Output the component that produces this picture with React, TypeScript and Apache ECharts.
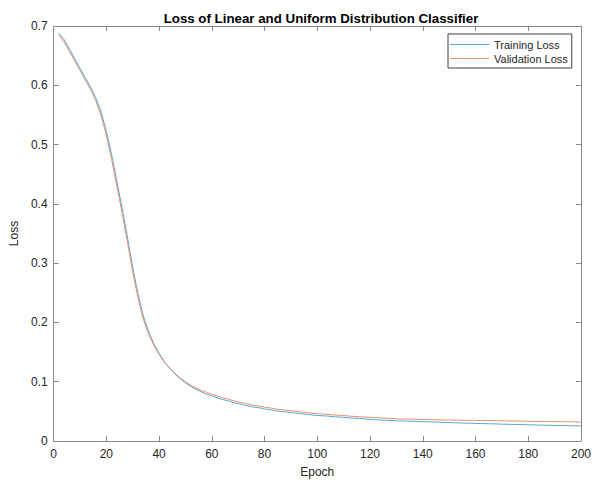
import React, { useEffect, useRef } from "react";
import * as echarts from "echarts";

const epochs = [
  2, 4, 6, 8, 10, 12, 14, 16, 18, 20, 22, 24, 26, 28, 30, 32, 34, 36, 38, 40,
  42, 44, 46, 48, 50, 52, 54, 56, 58, 60, 62, 64, 66, 68, 70, 72, 74, 76, 78, 80,
  82, 84, 86, 88, 90, 92, 94, 96, 98, 100, 102, 104, 106, 108, 110, 112, 114, 116, 118, 120,
  122, 124, 126, 128, 130, 132, 134, 136, 138, 140, 142, 144, 146, 148, 150, 152, 154, 156, 158, 160,
  162, 164, 166, 168, 170, 172, 174, 176, 178, 180, 182, 184, 186, 188, 190, 192, 194, 196, 198, 200,
];

const trainingLoss = [
  0.688, 0.677, 0.661, 0.645, 0.629, 0.613, 0.597, 0.579, 0.555, 0.523,
  0.483, 0.438, 0.392, 0.344, 0.293, 0.248, 0.211, 0.185, 0.164, 0.148,
  0.134, 0.123, 0.113, 0.105, 0.098, 0.092, 0.087, 0.083, 0.079, 0.076,
  0.073, 0.070, 0.068, 0.065, 0.063, 0.061, 0.059, 0.057, 0.056, 0.054,
  0.053, 0.051, 0.050, 0.049, 0.048, 0.047, 0.046, 0.045, 0.044, 0.043,
  0.0425, 0.042, 0.041, 0.0405, 0.040, 0.039, 0.0385, 0.038, 0.0375, 0.0365,
  0.036, 0.0355, 0.035, 0.0345, 0.034, 0.0338, 0.0335, 0.0332, 0.033, 0.0326,
  0.0322, 0.032, 0.0318, 0.0315, 0.031, 0.0308, 0.0305, 0.0302, 0.030, 0.0297,
  0.0295, 0.0292, 0.029, 0.0288, 0.0285, 0.0282, 0.028, 0.0278, 0.0276, 0.0273,
  0.0271, 0.0269, 0.0267, 0.0265, 0.0263, 0.0261, 0.0259, 0.0258, 0.0256, 0.0255,
];

const validationLoss = [
  0.685, 0.673, 0.657, 0.641, 0.625, 0.609, 0.593, 0.574, 0.549, 0.516,
  0.475, 0.430, 0.384, 0.336, 0.286, 0.242, 0.206, 0.181, 0.161, 0.146,
  0.133, 0.123, 0.114, 0.106, 0.1, 0.094, 0.0895, 0.0855, 0.082, 0.079,
  0.076, 0.073, 0.071, 0.068, 0.066, 0.064, 0.062, 0.060, 0.059, 0.057,
  0.056, 0.054, 0.053, 0.052, 0.051, 0.050, 0.049, 0.048, 0.047, 0.046,
  0.0455, 0.045, 0.044, 0.0435, 0.043, 0.042, 0.0415, 0.041, 0.0405, 0.040,
  0.0395, 0.039, 0.0385, 0.038, 0.0375, 0.037, 0.037, 0.0368, 0.0365, 0.0362,
  0.036, 0.0358, 0.0356, 0.0355, 0.0353, 0.0352, 0.035, 0.0349, 0.0348, 0.0347,
  0.0346, 0.0345, 0.0343, 0.0342, 0.034, 0.0339, 0.0337, 0.0336, 0.0334, 0.0333,
  0.0332, 0.033, 0.0329, 0.0328, 0.0327, 0.0326, 0.0325, 0.0324, 0.0322, 0.032,
];

const FONT = "'Liberation Sans', Arial, Helvetica, sans-serif";
const AXIS_COLOR = "#8a8a8a";
const TEXT_COLOR = "#262626";
const BLUE = "#55a6d5";
const ORANGE = "#e58f6c";

export default function App() {
  const ref = useRef<HTMLDivElement>(null);

  useEffect(() => {
    if (!ref.current) return;
    const chart = echarts.init(ref.current, null, { renderer: "svg" });
    const tick = { show: true, inside: true, length: 5, lineStyle: { color: AXIS_COLOR, width: 1 } };
    const line = { show: true, onZero: false, lineStyle: { color: AXIS_COLOR, width: 1 } };
    chart.setOption({
      animation: false,
      backgroundColor: "#ffffff",
      title: {
        text: "Loss of Linear and Uniform Distribution Classifier",
        left: 316,
        textAlign: "center",
        top: 7,
        textStyle: { fontFamily: FONT, fontSize: 13.3, fontWeight: "bold", color: "#000" },
      },
      legend: {
        orient: "vertical",
        left: 448,
        top: 34,
        icon: "rect",
        itemWidth: 39,
        itemHeight: 1,
        itemGap: 3,
        padding: [5, 4, 4, 2],
        borderColor: "#404040",
        borderWidth: 1,
        backgroundColor: "#ffffff",
        textStyle: { fontFamily: FONT, fontSize: 11, color: TEXT_COLOR },
        data: ["Training Loss", "Validation Loss"],
      },
      grid: { left: 50, right: 11, top: 26, bottom: 37, containLabel: false },
      xAxis: [
        {
          type: "value",
          min: 0,
          max: 200,
          interval: 20,
          name: "Epoch",
          nameLocation: "middle",
          nameGap: 25,
          nameTextStyle: { fontFamily: FONT, fontSize: 12, color: TEXT_COLOR },
          axisLine: line,
          axisTick: tick,
          axisLabel: { fontFamily: FONT, fontSize: 12, color: TEXT_COLOR, margin: 7 },
          splitLine: { show: false },
        },
        {
          type: "value",
          position: "top",
          min: 0,
          max: 200,
          interval: 20,
          axisLine: line,
          axisTick: tick,
          axisLabel: { show: false },
          splitLine: { show: false },
        },
      ],
      yAxis: [
        {
          type: "value",
          min: 0,
          max: 0.7,
          interval: 0.1,
          name: "Loss",
          nameLocation: "middle",
          nameGap: 25,
          nameTextStyle: { fontFamily: FONT, fontSize: 12, color: TEXT_COLOR },
          axisLine: line,
          axisTick: tick,
          axisLabel: {
            fontFamily: FONT,
            fontSize: 12,
            color: TEXT_COLOR,
            margin: 6,
            formatter: (v: number) => (v === 0 ? "0" : v.toFixed(1)),
          },
          splitLine: { show: false },
        },
        {
          type: "value",
          position: "right",
          min: 0,
          max: 0.7,
          interval: 0.1,
          axisLine: line,
          axisTick: tick,
          axisLabel: { show: false },
          splitLine: { show: false },
        },
      ],
      series: [
        {
          name: "Training Loss",
          type: "line",
          showSymbol: false,
          data: epochs.map((e, i) => [e, trainingLoss[i]]),
          lineStyle: { color: BLUE, width: 1 },
          itemStyle: { color: BLUE },
        },
        {
          name: "Validation Loss",
          type: "line",
          showSymbol: false,
          data: epochs.map((e, i) => [e, validationLoss[i]]),
          lineStyle: { color: ORANGE, width: 1 },
          itemStyle: { color: ORANGE },
        },
      ],
    });
    return () => chart.dispose();
  }, []);

  return (
    <div
      ref={ref}
      style={{ position: "fixed", left: 0, top: 0, width: 594, height: 483, background: "#fff" }}
    />
  );
}
